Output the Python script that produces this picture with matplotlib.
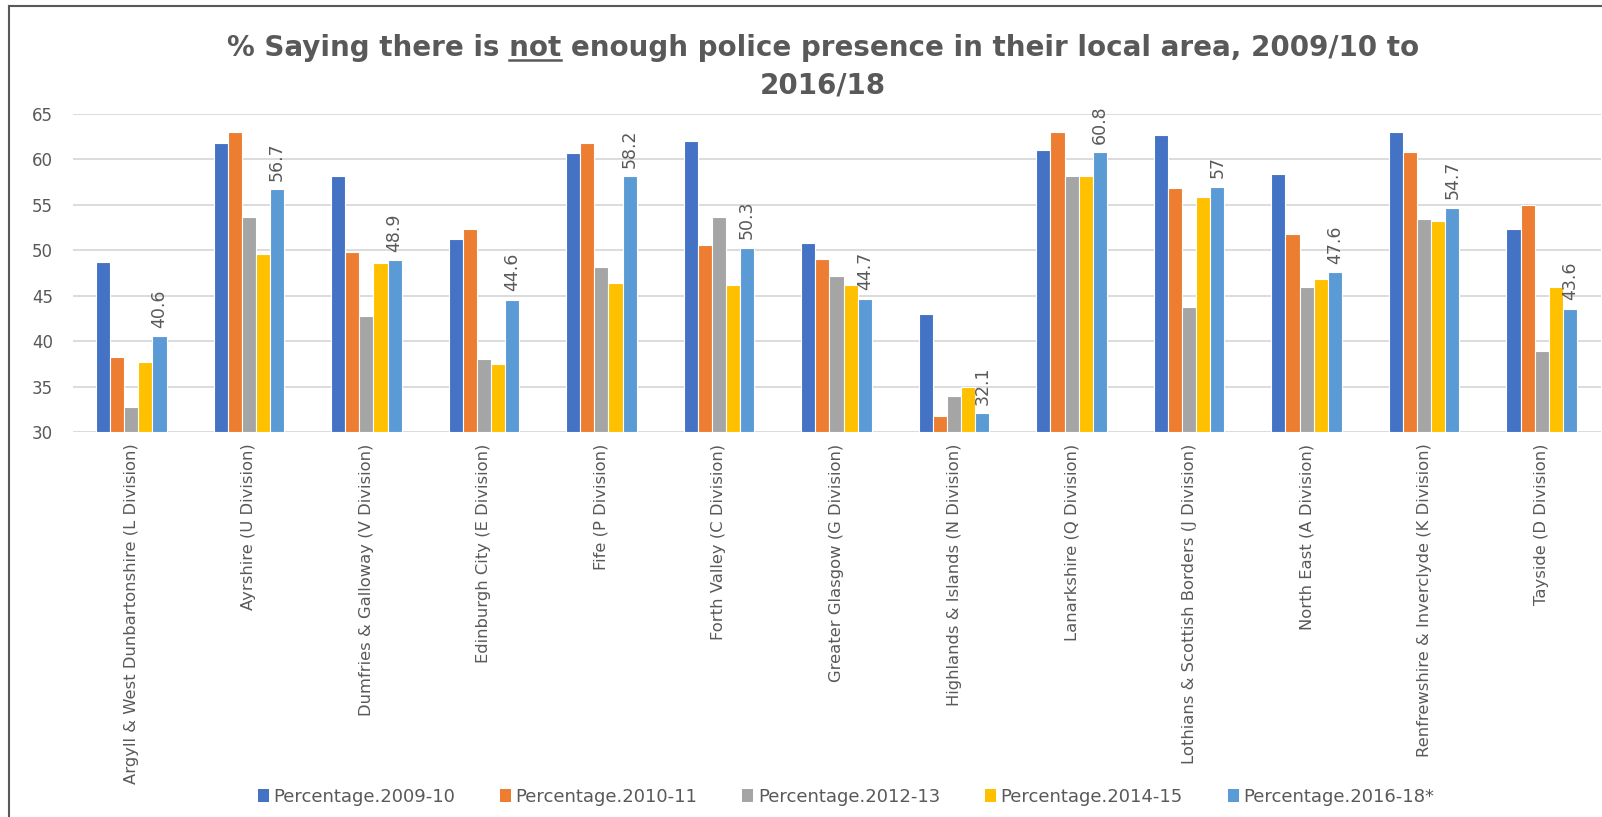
import matplotlib
matplotlib.use("Agg")
import matplotlib.pyplot as plt
from matplotlib.patches import Patch
from matplotlib.lines import Line2D
import numpy as np

# ---- data -------------------------------------------------------------
divisions = [
    "Argyll & West Dunbartonshire (L Division)",
    "Ayrshire (U Division)",
    "Dumfries & Galloway (V Division)",
    "Edinburgh City (E Division)",
    "Fife (P Division)",
    "Forth Valley (C Division)",
    "Greater Glasgow (G Division)",
    "Highlands & Islands (N Division)",
    "Lanarkshire (Q Division)",
    "Lothians & Scottish Borders (J Division)",
    "North East (A Division)",
    "Renfrewshire & Inverclyde (K Division)",
    "Tayside (D Division)",
]
series_names = [
    "Percentage.2009-10",
    "Percentage.2010-11",
    "Percentage.2012-13",
    "Percentage.2014-15",
    "Percentage.2016-18*",
]
pct_2009_10 = [48.7, 61.8, 58.2, 51.3, 60.7, 62.0, 50.8, 43.0, 61.0, 62.7, 58.4, 63.0, 52.3]
pct_2010_11 = [38.3, 63.0, 49.8, 52.3, 61.8, 50.6, 49.1, 31.8, 63.0, 56.9, 51.8, 60.8, 55.0]
pct_2012_13 = [32.8, 53.7, 42.8, 38.1, 48.2, 53.7, 47.2, 34.0, 58.2, 43.8, 46.0, 53.5, 38.9]
pct_2014_15 = [37.7, 49.6, 48.6, 37.5, 46.4, 46.2, 46.2, 35.0, 58.2, 55.9, 46.9, 53.2, 46.0]
pct_2016_18 = [40.6, 56.7, 48.9, 44.6, 58.2, 50.3, 44.7, 32.1, 60.8, 57.0, 47.6, 54.7, 43.6]

# ---- styling ----------------------------------------------------------
colors = ["#4472C4", "#ED7D31", "#A5A5A5", "#FFC000", "#5B9BD5"]
text_grey = "#595959"
grid_grey = "#D9D9D9"
plt.rcParams["font.family"] = ["DejaVu Sans"]

W, H = 1602, 817
fig = plt.figure(figsize=(W / 100, H / 100), dpi=100)
fig.patch.set_facecolor("white")

left_px, right_px, top_px, bottom_px = 72.5, 1600.5, 114, 432.3
ax = fig.add_axes([left_px / W, 1 - bottom_px / H,
                   (right_px - left_px) / W, (bottom_px - top_px) / H])

all_series = [pct_2009_10, pct_2010_11, pct_2012_13, pct_2014_15, pct_2016_18]
x = np.arange(len(divisions))
bar_w = 0.12
n = len(all_series)
for i, (vals, col) in enumerate(zip(all_series, colors)):
    offs = (i - (n - 1) / 2) * bar_w
    ax.bar(x + offs, np.array(vals) - 30, bottom=30, width=bar_w, color=col,
           edgecolor="white", linewidth=0.8, zorder=3)

# value labels on the latest survey
last_off = ((n - 1) - (n - 1) / 2) * bar_w
for xi, v in zip(x, pct_2016_18):
    ax.annotate(f"{v:g}", (xi + last_off, v), xytext=(0, 6),
                textcoords="offset points", rotation=90, ha="center",
                va="bottom", fontsize=12.5, color=text_grey, zorder=4)

ax.set_xlim(-0.5, len(divisions) - 0.5)
ax.set_ylim(30, 65)
ax.set_yticks(np.arange(30, 66, 5))
ax.yaxis.grid(True, color=grid_grey, linewidth=1.3, zorder=0)
ax.set_axisbelow(True)
for s in ax.spines.values():
    s.set_visible(False)
ax.tick_params(axis="both", length=0, colors=text_grey)
ax.tick_params(axis="y", pad=14, labelsize=12)
ax.set_xticks(x)
ax.set_xticklabels(divisions, rotation=90, ha="center", va="top")
ax.tick_params(axis="x", pad=8, labelsize=11.8)

# ---- title with underlined word ----------------------------------------
title_kw = dict(fontsize=20, fontweight="bold", color=text_grey,
                ha="center", va="baseline")
line1 = "% Saying there is not enough police presence in their local area, 2009/10 to"
t1 = fig.text(823 / W, 1 - 56 / H, line1, **title_kw)
fig.text(823 / W, 1 - 93 / H, "2016/18", **title_kw)

fig.canvas.draw()
renderer = fig.canvas.get_renderer()
bb = t1.get_window_extent(renderer)
fp = t1.get_fontproperties()
w_pre, _, _ = renderer.get_text_width_height_descent("% Saying there is ", fp, ismath=False)
w_not, _, _ = renderer.get_text_width_height_descent("not", fp, ismath=False)
x0 = bb.x0 + w_pre
y_line = H - 56 - 4
fig.add_artist(Line2D([x0 / W, (x0 + w_not) / W], [y_line / H, y_line / H],
                      color=text_grey, linewidth=1.8, transform=fig.transFigure))

# ---- legend -------------------------------------------------------------
handles = [Patch(facecolor=c, edgecolor="none") for c in colors]
fig.legend(handles, series_names, loc="center", ncol=5, frameon=False,
           bbox_to_anchor=(846 / W, 1 - 797 / H), fontsize=13,
           labelcolor=text_grey, handlelength=0.6, handleheight=0.7,
           handletextpad=0.25, columnspacing=2.5)

# ---- chart frame (top and left edges) -----------------------------------
frame_kw = dict(color=text_grey, linewidth=1.5, transform=fig.transFigure)
fig.add_artist(Line2D([9 / W, 1.0], [1 - 6 / H, 1 - 6 / H], **frame_kw))
fig.add_artist(Line2D([9 / W, 9 / W], [1 - 6 / H, 0.0], **frame_kw))

fig.savefig("out.png", dpi=100, facecolor="white")
